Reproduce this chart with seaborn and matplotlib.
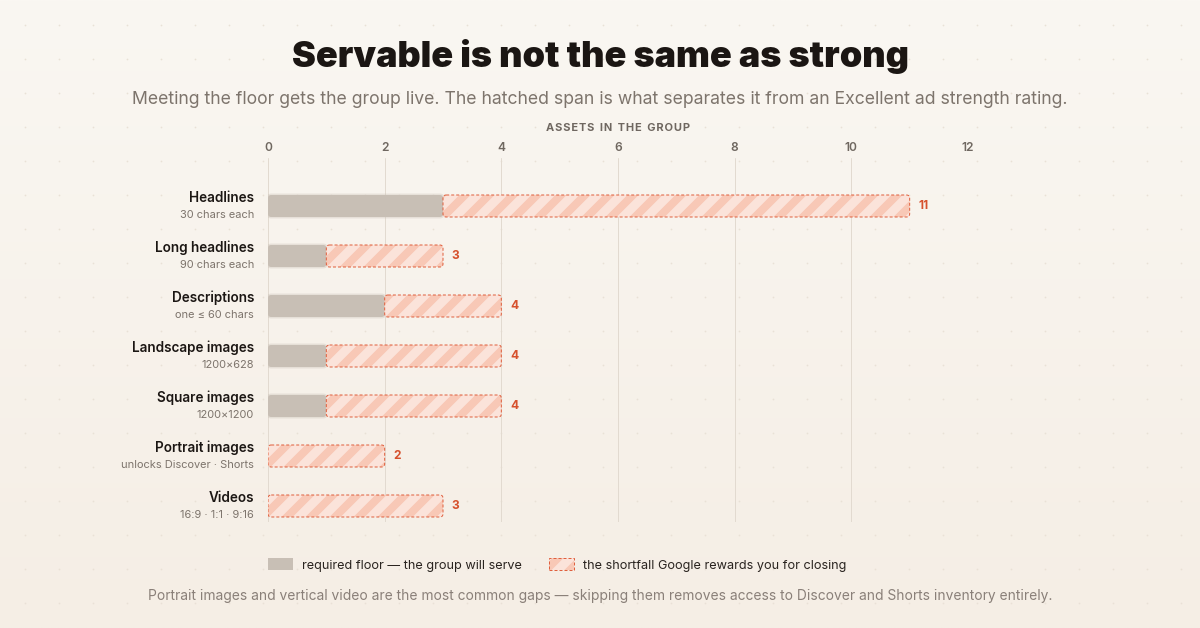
import numpy as np
import pandas as pd
import matplotlib
matplotlib.use('Agg')
from matplotlib import pyplot as plt
from matplotlib.patches import FancyBboxPatch, Patch
from matplotlib.legend_handler import HandlerTuple
import seaborn as sns

# data
categories = ['Headlines', 'Long headlines', 'Descriptions', 'Landscape images',
              'Square images', 'Portrait images', 'Videos']
notes = ['30 chars each', '90 chars each', 'one ≤ 60 chars', '1200×628',
         '1200×1200', 'unlocks Discover · Shorts', '16:9 · 1:1 · 9:16']
floor = [3, 1, 2, 1, 1, 0, 0]
excellent = [11, 3, 4, 4, 4, 2, 3]
xticks = [0, 2, 4, 6, 8, 10, 12]

df = pd.DataFrame({'asset': categories, 'note': notes,
                   'floor': floor, 'excellent': excellent})
df['gap'] = df['excellent'] - df['floor']

sns.set_theme(style='white')
plt.rcParams['font.family'] = ['Inter', 'DejaVu Sans']
plt.rcParams['hatch.linewidth'] = 9

GRAY = '#c8bfb5'
PINK = '#f8c8b6'
STRIPE = (1, 1, 1, 0.5)
RED_EDGE = '#e0603e'
RED_TXT = '#d6512d'
INK = '#1b1613'
MUTED = '#7d746c'

W, H, DPI = 1200, 628, 72
fig = plt.figure(figsize=(W / DPI, H / DPI), dpi=DPI)

# background: soft vertical gradient + faint dot grid
bg = fig.add_axes([0, 0, 1, 1], zorder=-10)
top = np.array([250, 247, 242]) / 255
bot = np.array([245, 238, 229]) / 255
t = np.linspace(0, 1, 256)[:, None, None]
grad = top * (1 - t) + bot * t
bg.imshow(np.repeat(grad, 4, axis=1), extent=[0, W, H, 0], aspect='auto')
gx, gy = np.meshgrid(np.arange(25, W, 34), np.arange(25, H, 34))
bg.scatter(gx.ravel(), gy.ravel(), s=3, color='#e9e1d6', linewidths=0)
bg.set_xlim(0, W)
bg.set_ylim(H, 0)
bg.axis('off')

ax = fig.add_axes([268 / W, 1 - 522 / H, 700 / W, 364 / H])
ax.patch.set_alpha(0)

bar_h = 0.44
sns.barplot(data=df, x='floor', y='asset', color=GRAY, saturation=1,
            width=bar_h, orient='h', ax=ax, linewidth=0)

floor_bars = list(ax.patches)
gap_bars = ax.barh(np.arange(len(df)), df['gap'], left=df['floor'],
                   height=bar_h, color=PINK, linewidth=0)

ASPECT = 1.17
STYLE = 'round,pad=0,rounding_size=0.055'


def rounded(b, style=STYLE, **kw):
    p = FancyBboxPatch((b.get_x(), b.get_y()), b.get_width(), b.get_height(),
                       boxstyle=style, mutation_aspect=ASPECT, **kw)
    ax.add_patch(p)
    return p


for b in floor_bars:
    if b.get_width() > 0:
        rounded(b, style='round,pad=0.025,rounding_size=0.08',
                facecolor=GRAY, alpha=0.35, linewidth=0, zorder=2)
        rounded(b, facecolor=GRAY, linewidth=0, zorder=3)
    b.remove()

for b in gap_bars:
    if b.get_width() > 0:
        rounded(b, facecolor=PINK, linewidth=0, zorder=3)
        rounded(b, facecolor='none', edgecolor=STRIPE, hatch='/',
                linewidth=0, zorder=4)
        rounded(b, fill=False, edgecolor=RED_EDGE, linewidth=1,
                linestyle=(0, (3, 2)), zorder=5)
    b.remove()

# labels
for i, row in df.iterrows():
    ax.text(-0.24, i - 0.16, row['asset'], ha='right', va='center',
            fontsize=13.5, fontweight='semibold', color=INK)
    ax.text(-0.24, i + 0.17, row['note'], ha='right', va='center',
            fontsize=11, color=MUTED)
    ax.text(row['excellent'] + 0.15, i, str(row['excellent']), ha='left',
            va='center', fontsize=12, fontweight='bold', color=RED_TXT)

ax.set_xlim(0, 12)
ax.set_ylim(6.32, -0.96)
ax.set_xticks(xticks)
ax.set_yticks([])
ax.set_ylabel('')
ax.grid(axis='x', color='#e2dad0', linewidth=1)
ax.grid(axis='y', visible=False)
ax.set_axisbelow(True)
sns.despine(ax=ax, left=True, bottom=True)
ax.tick_params(axis='x', top=True, labeltop=True, bottom=False,
               labelbottom=False, length=0, pad=4, labelsize=12,
               labelcolor='#6f6760')
for tl in ax.get_xticklabels():
    tl.set_fontweight('semibold')
ax.xaxis.set_label_position('top')
ax.set_xlabel('A S S E T S   I N   T H E   G R O U P'.replace('   ', '\u2002').replace(' ', '\u200a'),
              fontsize=11, fontweight='bold', color='#6f6760', labelpad=11)

# titles
fig.text(0.5, 1 - 57 / H, 'Servable is not the same as strong', ha='center',
         va='center', fontsize=36, fontweight='black', color=INK)
fig.text(0.5, 1 - 100 / H,
         'Meeting the floor gets the group live. The hatched span is what '
         'separates it from an Excellent ad strength rating.',
         ha='center', va='center', fontsize=17.6, color=MUTED)

# legend
h_floor = Patch(facecolor=GRAY, linewidth=0)
h_gap = (Patch(facecolor=PINK, linewidth=0),
         Patch(facecolor='none', edgecolor=STRIPE, hatch='/', linewidth=0),
         Patch(fill=False, edgecolor=RED_EDGE, linewidth=1, linestyle=(0, (3, 2))))
fig.legend([h_floor, h_gap],
           ['required floor — the group will serve',
            'the shortfall Google rewards you for closing'],
           handler_map={tuple: HandlerTuple(ndivide=1, pad=0)},
           loc='center left', bbox_to_anchor=(268 / W, 1 - 565 / H),
           frameon=False, ncol=2, fontsize=12.7, labelcolor='#2a2420',
           handlelength=1.95, handleheight=1.0, handletextpad=0.7,
           columnspacing=2.2, borderpad=0, borderaxespad=0)

fig.text(0.5, 1 - 596 / H,
         'Portrait images and vertical video are the most common gaps — '
         'skipping them removes access to Discover and Shorts inventory entirely.',
         ha='center', va='center', fontsize=13.8, color='#8a8079')

fig.savefig('out.png', dpi=DPI)
